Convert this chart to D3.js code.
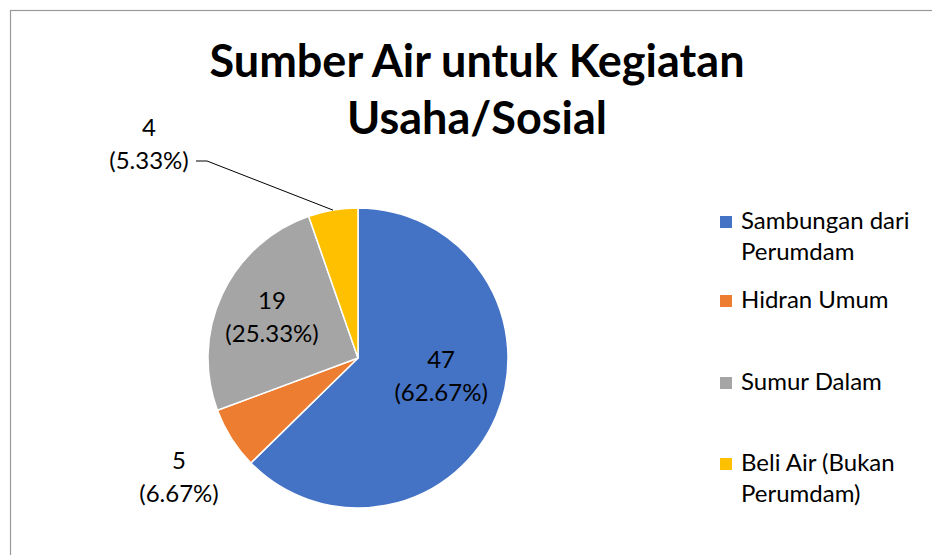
<!DOCTYPE html>
<html>
<head>
<meta charset="utf-8">
<script src="https://cdn.jsdelivr.net/npm/d3@7"></script>
<style>
    body { margin: 0; background: #fff; }
    text { font-family: Lato, "Open Sans", sans-serif; fill: #000; }
</style>
</head>
<body>
<div id="chart"></div>
<script>
/*
    Data
*/
var categories = ["Sambungan dari Perumdam", "Hidran Umum", "Sumur Dalam", "Beli Air (Bukan Perumdam)"]
var values = [47, 5, 19, 4]
var percents = ["62.67%", "6.67%", "25.33%", "5.33%"]
var colors = ["#4472C4", "#ED7D31", "#A5A5A5", "#FFC000"]
var legendLines = [["Sambungan dari", "Perumdam"], ["Hidran Umum"], ["Sumur Dalam"], ["Beli Air (Bukan", "Perumdam)"]]
var titleLines = ["Sumber Air untuk Kegiatan", "Usaha/Sosial"]

/*
    Dimensions
*/
var width = 932,
    height = 555,
    cx = 358,
    cy = 358,
    radius = 150

var svg = d3.select("#chart").append("svg")
            .attr("width", width)
            .attr("height", height)

// chart border (right and bottom run off the picture)
svg.append("rect")
    .attr("x", 10.5)
    .attr("y", 10.5)
    .attr("width", width + 20)
    .attr("height", height + 20)
    .attr("fill", "none")
    .attr("stroke", "#999")
    .attr("stroke-width", 1.2)

/*
    Title
*/
svg.append("g")
    .selectAll("text")
    .data(titleLines)
    .enter().append("text")
    .attr("x", 477)
    .attr("y", function(d, i) { return 77 + i * 57 })
    .attr("text-anchor", "middle")
    .style("font-size", "45px")
    .style("font-weight", "bold")
    .text(function(d) { return d })

/*
    Pie
*/
var pie = d3.pie()
            .sort(null)
            .value(function(d) { return d })

var arc = d3.arc()
            .innerRadius(0)
            .outerRadius(radius)

var arcs = pie(values)

var g = svg.append("g")
           .attr("transform", "translate(" + cx + "," + cy + ")")

g.selectAll("path")
    .data(arcs)
    .enter().append("path")
    .attr("d", arc)
    .attr("fill", function(d, i) { return colors[i] })
    .attr("stroke", "#fff")
    .attr("stroke-width", 1.5)
    .attr("stroke-linejoin", "round")

/*
    Data labels: radius from the centre and a small nudge per slice
*/
var labelRadius = [88, 212, 95, 0],
    labelNudge = [[2, -16], [0, 5], [0, -1], [0, 0]]

function labelPos(d, i) {
    if (i == 3) {
        // outside label, moved up-left like Excel does
        return [-209, -214]
    }
    var a = d3.arc().innerRadius(labelRadius[i]).outerRadius(labelRadius[i])
    var c = a.centroid(d)
    return [c[0] + labelNudge[i][0], c[1] + labelNudge[i][1]]
}

var labels = g.selectAll("g.label")
    .data(arcs)
    .enter().append("g")
    .attr("class", "label")
    .attr("transform", function(d, i) {
        var p = labelPos(d, i)
        return "translate(" + p[0] + "," + p[1] + ")"
    })

labels.append("text")
    .attr("text-anchor", "middle")
    .attr("y", -8)
    .style("font-size", "24px")
    .text(function(d, i) { return values[i] })

labels.append("text")
    .attr("text-anchor", "middle")
    .attr("y", 25)
    .style("font-size", "24px")
    .text(function(d, i) { return "(" + percents[i] + ")" })

// leader line for the small yellow slice
var yellow = arcs[3],
    mid = (yellow.startAngle + yellow.endAngle) / 2,
    edge = [Math.sin(mid) * radius, -Math.cos(mid) * radius],
    lp = labelPos(yellow, 3)

g.append("path")
    .attr("d", d3.line()([
        [lp[0] + 47, lp[1] + 17],
        [lp[0] + 58, lp[1] + 17],
        edge
    ]))
    .attr("fill", "none")
    .attr("stroke", "#000")
    .attr("stroke-width", 1)

/*
    Legend
*/
var legendY = [229, 308, 390, 471]

var legend = svg.append("g")
    .selectAll("g")
    .data(categories)
    .enter().append("g")
    .attr("transform", function(d, i) { return "translate(720," + legendY[i] + ")" })

legend.append("rect")
    .attr("x", 0)
    .attr("y", -13)
    .attr("width", 12)
    .attr("height", 12)
    .attr("fill", function(d, i) { return colors[i] })

legend.append("text")
    .attr("x", 21)
    .style("font-size", "24px")
    .selectAll("tspan")
    .data(function(d, i) { return legendLines[i] })
    .enter().append("tspan")
    .attr("x", 21)
    .attr("dy", function(d, j) { return j == 0 ? 0 : 31 })
    .text(function(d) { return d })
</script>
</body>
</html>
